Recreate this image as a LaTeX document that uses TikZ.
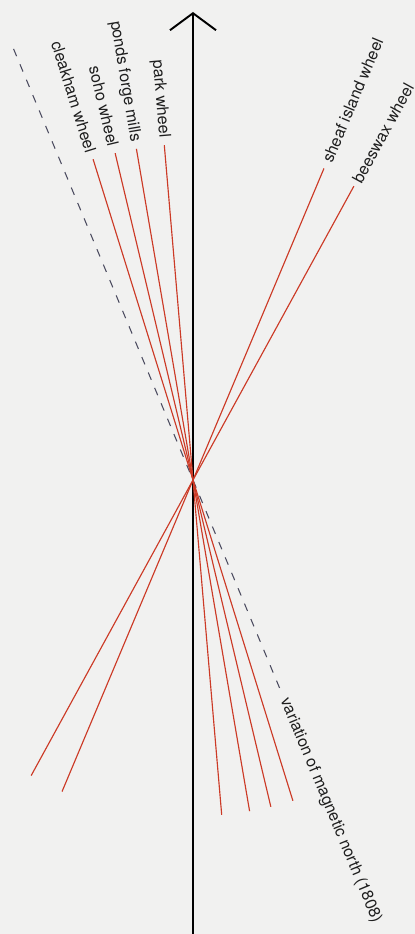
\documentclass[tikz,border=0pt]{standalone}
\usepackage{fontspec}
\setmainfont{TeX Gyre Heros}
\usetikzlibrary{positioning,arrows.meta,calc}
\definecolor{paper}{RGB}{241,241,240}
\definecolor{bearingred}{RGB}{204,58,38}
\definecolor{dashgrey}{RGB}{75,75,95}
\definecolor{inkgrey}{RGB}{30,30,30}

\begin{document}
\begin{tikzpicture}[
    x=0.02cm, y=0.02cm,
    every node/.style={font=\fontsize{9.2}{11}\selectfont, text=inkgrey, inner sep=4pt},
    bearing/.style={draw=bearingred, line width=0.65pt},
    northline/.style={draw=dashgrey, line width=0.6pt, dash pattern=on 4.5pt off 5pt},
    axisline/.style={draw=black, line width=1.1pt, -{Straight Barb[length=3.4mm, width=9.2mm]}},
    leftlabel/.style={anchor=east},
    rightlabel/.style={anchor=west}
  ]

  % --- Paper ---
  \fill[paper] (0,0) rectangle (415,934);
  \useasboundingbox (0,0) rectangle (415,934);

  % --- Crossing point and north axis ---
  \coordinate (c) at (193,454);
  \coordinate (axisbot) at (193,0);
  \coordinate (axistop) at (193,922);
  \draw[axisline] (axisbot) -- (axistop);

  % --- Line ends (bearings from the crossing point) ---
  \coordinate (parktop) at ($(c)+(94.9:336)$);
  \coordinate (parkbot) at ($(c)+(274.9:336)$);
  \coordinate (pondstop) at ($(c)+(99.7:336)$);
  \coordinate (pondsbot) at ($(c)+(279.7:336)$);
  \coordinate (sohotop) at ($(c)+(103.4:336)$);
  \coordinate (sohobot) at ($(c)+(283.4:336)$);
  \coordinate (cleaktop) at ($(c)+(107.3:336)$);
  \coordinate (cleakbot) at ($(c)+(287.3:336)$);
  \coordinate (sheaftop) at ($(c)+(67.2:338)$);
  \coordinate (sheafbot) at ($(c)+(247.2:338)$);
  \coordinate (beestop) at ($(c)+(61.3:335)$);
  \coordinate (beesbot) at ($(c)+(241.3:337)$);
  \coordinate (magtop) at ($(c)+(112.6:467)$);
  \coordinate (magbot) at ($(c)+(292.6:230)$);

  % --- Magnetic north ---
  \draw[northline] (magtop) -- (magbot);

  % --- Wheel bearings ---
  \draw[bearing] (parktop) -- (parkbot);
  \draw[bearing] (pondstop) -- (pondsbot);
  \draw[bearing] (sohotop) -- (sohobot);
  \draw[bearing] (cleaktop) -- (cleakbot);
  \draw[bearing] (sheaftop) -- (sheafbot);
  \draw[bearing] (beestop) -- (beesbot);

  % --- Labels ---
  \node[leftlabel, rotate=-85.1] (lpark) at (parktop) {park wheel};
  \node[leftlabel, rotate=-80.3] (lponds) at (pondstop) {ponds forge mills};
  \node[leftlabel, rotate=-76.6] (lsoho) at (sohotop) {soho wheel};
  \node[leftlabel, rotate=-72.7] (lcleak) at (cleaktop) {cleakham wheel};
  \node[rightlabel, rotate=67.2] (lsheaf) at (sheaftop) {sheaf island wheel};
  \node[rightlabel, rotate=61.3, inner sep=3pt] (lbees) at (beestop) {beeswax wheel};
  \node[rightlabel, rotate=-67.4] (lmag) at (magbot) {variation of magnetic north (1808)};

\end{tikzpicture}
\end{document}
